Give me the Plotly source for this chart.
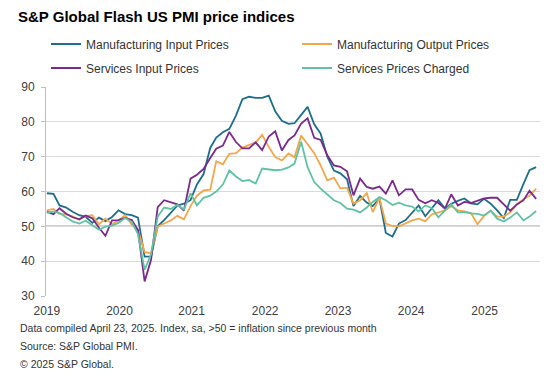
import pandas as pd
import plotly.graph_objects as go

dates = pd.date_range("2019-01-01", "2025-04-01", freq="MS")

mfg_input = [59.5, 59.3, 56.0, 55.4, 54.2, 53.2, 52.7, 51.0, 52.5, 51.5, 52.7, 54.6,
             53.5, 53.2, 52.5, 41.3, 41.4, 50.0, 51.8, 54.0, 56.0, 56.5, 57.5, 62.0,
             65.0, 72.5, 75.5, 77.0, 78.0, 81.8, 86.5, 87.2, 86.9, 86.9, 87.5, 83.0,
             80.3, 79.4, 79.6, 82.0, 84.3, 79.3, 76.6, 70.0, 66.0, 65.2, 63.5, 55.8,
             58.7, 56.8, 55.8, 58.0, 48.1, 47.1, 50.8, 51.8, 54.0, 56.0, 52.9, 55.1,
             57.5, 55.1, 56.5, 57.3, 58.0, 56.6, 56.3, 57.9, 56.5, 54.6, 52.4, 57.6,
             57.6, 62.2, 66.1, 67.0]

mfg_output = [54.6, 55.0, 53.6, 53.4, 52.9, 51.9, 52.9, 53.2, 50.6, 52.2, 50.6, 51.7,
              53.2, 50.5, 49.0, 42.6, 42.3, 49.9, 50.8, 51.7, 53.0, 52.0, 55.8, 58.8,
              60.3, 60.5, 68.7, 67.8, 70.8, 71.0, 72.6, 73.3, 74.1, 76.3, 72.8, 69.9,
              68.9, 70.9, 69.8, 76.1, 73.7, 71.0, 67.5, 63.2, 64.0, 60.9, 61.1, 56.5,
              57.5, 59.5, 54.1, 58.2, 50.8, 50.1, 50.0, 50.8, 51.7, 52.2, 51.5, 53.4,
              54.1, 54.6, 55.8, 54.6, 54.3, 53.8, 50.6, 53.0, 54.5, 52.8, 52.8, 54.0,
              56.3, 57.8, 58.8, 60.8]

svc_input = [54.2, 53.5, 55.2, 53.6, 52.6, 52.0, 53.1, 52.3, 49.6, 47.3, 51.7, 51.8,
             52.4, 51.8, 48.9, 34.2, 40.4, 55.5, 57.5, 57.0, 56.3, 54.5, 63.7, 64.8,
             66.5, 69.6, 72.3, 73.2, 77.1, 74.2, 72.4, 72.4, 74.1, 71.9, 75.8, 77.3,
             71.8, 74.8, 76.1, 79.5, 81.0, 75.4, 74.8, 70.4, 67.5, 67.1, 65.8, 58.9,
             63.7, 61.3, 60.8, 61.4, 59.4, 63.2, 58.9, 60.6, 60.6, 57.6, 56.6, 57.5,
             56.7, 55.1, 59.2, 56.0, 57.0, 56.7, 57.3, 58.0, 58.2, 58.2, 56.3, 54.5,
             56.3, 57.5, 60.2, 57.9]

svc_charged = [53.9, 54.3, 53.8, 52.6, 51.4, 50.8, 51.6, 50.3, 49.0, 49.9, 50.2, 51.0,
               52.4, 51.3, 47.8, 37.5, 42.0, 52.8, 55.4, 55.0, 56.2, 54.8, 59.5, 56.0,
               58.2, 58.8, 60.0, 62.0, 66.0, 64.3, 63.0, 63.3, 62.3, 66.6, 66.3, 66.1,
               66.3, 66.9, 68.0, 74.3, 67.0, 62.7, 60.8, 59.0, 57.5, 56.7, 55.1, 54.8,
               54.0, 55.4, 57.0, 58.4, 57.5, 56.1, 56.8, 56.0, 55.7, 54.3, 56.0, 55.3,
               52.6, 54.6, 56.3, 54.0, 54.1, 53.7, 53.6, 53.1, 54.5, 52.2, 51.4, 52.5,
               54.0, 51.7, 52.8, 54.4]

series_names = ["Manufacturing Input Prices", "Manufacturing Output Prices",
                "Services Input Prices", "Services Prices Charged"]
series_values = [mfg_input, mfg_output, svc_input, svc_charged]
series_colors = ["#1d6e8c", "#f5a54a", "#7a2a8d", "#5fc2a2"]
legend_ids = ["legend", "legend2", "legend3", "legend4"]

tick_labels = ["2019", "2020", "2021", "2022", "2023", "2024", "2025"]
tick_positions = ["2019-01-01", "2019-12-06", "2020-11-06", "2021-10-15",
                  "2022-09-20", "2023-08-27", "2024-08-04"]
y_ticks = [30, 40, 50, 60, 70, 80, 90]

fig = go.Figure()
for name, vals, col, lg in zip(series_names, series_values, series_colors, legend_ids):
    fig.add_trace(go.Scatter(x=dates, y=vals, mode="lines", name=name,
                             line=dict(color=col, width=1.8), legend=lg))

FONT = "Arial, Liberation Sans, sans-serif"
# page has an 8px body margin; figure coords = page coords - 8
W, H = 551, 368
ml, mr, mt, mb = 38, 19, 79, 80
pw = W - ml - mr
ph = H - mt - mb

fig.add_shape(type="line", xref="paper", yref="y", x0=0, x1=1, y0=50, y1=50,
              line=dict(color="#a0a0a0", width=1.5), layer="below")

legend_style = dict(orientation="h", xanchor="left", yanchor="middle",
                    font=dict(family=FONT, size=12, color="#333333"),
                    bgcolor="rgba(0,0,0,0)", itemclick=False, itemdoubleclick=False)
leg_x = [0, (289 - ml) / pw, 0, (289 - ml) / pw]
leg_y = [36, 36, 60, 60]
leg_layout = {}
for lg, lx, ly in zip(legend_ids, leg_x, leg_y):
    leg_layout[lg] = dict(legend_style, x=lx, y=(H - mb - ly) / ph)

fig.update_layout(
    width=W, height=H,
    margin=dict(l=ml, r=mr, t=mt, b=mb),
    paper_bgcolor="white", plot_bgcolor="white",
    font=dict(family=FONT, size=12, color="#404040"),
    title=dict(text="<b>S&P Global Flash US PMI price indices</b>",
               x=10 / W, xanchor="left", xref="container",
               y=1 - 9 / H, yanchor="middle", yref="container",
               font=dict(family=FONT, size=15, color="#000000")),
    xaxis=dict(range=["2018-12-28", "2025-04-19"], showgrid=False,
               tickmode="array", tickvals=tick_positions, ticktext=tick_labels,
               ticks="", showline=False, zeroline=False,
               tickfont=dict(family=FONT, size=12, color="#404040"),
               ticklabelstandoff=6),
    yaxis=dict(range=[30, 90], tickmode="array", tickvals=y_ticks,
               showgrid=True, gridcolor="#dadada", gridwidth=1,
               showline=True, linecolor="#bfbfbf", linewidth=1,
               ticks="outside", ticklen=4, tickcolor="#bfbfbf",
               zeroline=False,
               tickfont=dict(family=FONT, size=12, color="#404040"),
               ticklabelstandoff=4),
    showlegend=True,
    **leg_layout,
)

notes = ["Data compiled April 23, 2025. Index, sa, >50 = inflation since previous month",
         "Source: S&P Global PMI.",
         "© 2025 S&P Global."]
note_y = [320, 338, 356]
for txt, yy in zip(notes, note_y):
    fig.add_annotation(text=txt, xref="paper", yref="paper",
                       x=(10 - ml) / pw, xanchor="left",
                       y=(H - mb - yy) / ph, yanchor="middle",
                       showarrow=False,
                       font=dict(family=FONT, size=10.5, color="#333333"))

fig.write_html("out.html")
